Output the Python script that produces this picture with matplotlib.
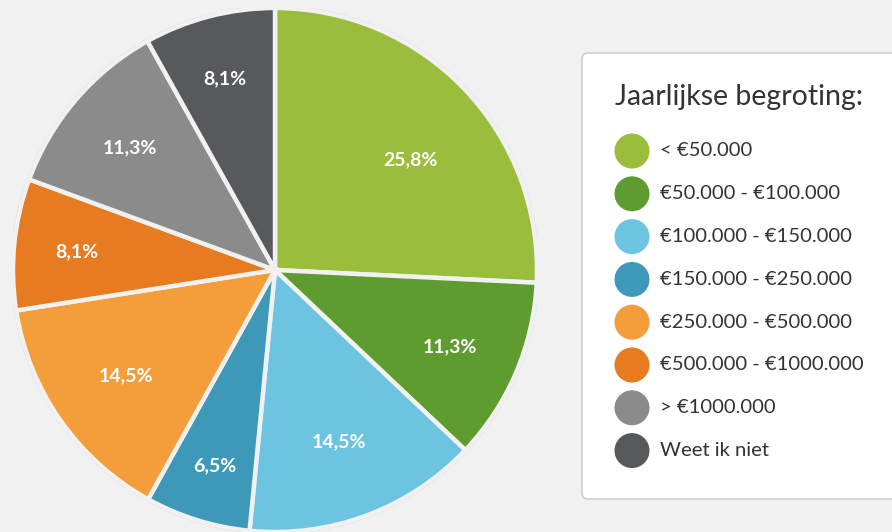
import matplotlib
matplotlib.use('Agg')
import matplotlib.pyplot as plt
import numpy as np
from matplotlib.patches import FancyBboxPatch, Circle

plt.rcParams['font.family'] = ['Lato', 'DejaVu Sans']

categories = ['< €50.000', '€50.000 - €100.000', '€100.000 - €150.000', '€150.000 - €250.000',
              '€250.000 - €500.000', '€500.000 - €1000.000', '> €1000.000', 'Weet ik niet']
values = [25.8, 11.3, 14.5, 6.5, 14.5, 8.1, 11.3, 8.1]
labels = ['25,8%', '11,3%', '14,5%', '6,5%', '14,5%', '8,1%', '11,3%', '8,1%']
colors = ['#9abe3c', '#5e9c2f', '#6cc4e0', '#3e98b8', '#f49d3b', '#e67b22', '#8b8b8b', '#58595b']
legend_title = 'Jaarlijkse begroting:'

bg = '#f1f1f1'
W, H = 892, 532
fig = plt.figure(figsize=(W / 100, H / 100), dpi=100, facecolor=bg)

# pie axes: centre (275, 270) px, radius 262 px
cx, cy, R = 275, 270, 262
ax = fig.add_axes([(cx - R) / W, (H - cy - R) / H, 2 * R / W, 2 * R / H])
ax.set_facecolor(bg)
ax.axis('off')
ax.add_patch(Circle((0, 0), 1.006, facecolor='none', edgecolor='#cfcfcf', lw=1.0, zorder=0))
wedges, _ = ax.pie(values, colors=colors, startangle=90, counterclock=False, radius=1.0,
                   wedgeprops=dict(edgecolor=bg, linewidth=3.2))
for w, lab, v in zip(wedges, labels, values):
    ang = np.deg2rad((w.theta1 + w.theta2) / 2)
    if v > 20:
        ang -= np.deg2rad(4)
        r = 0.67
    else:
        r = 0.84 - 0.01 * v
    ax.text(r * np.cos(ang), r * np.sin(ang), lab, ha='center', va='center_baseline',
            color='white', fontsize=14, fontweight='bold')
ax.set_xlim(-1, 1)
ax.set_ylim(-1, 1)
ax.set_aspect('equal')

# legend panel in pixel-like coordinates
lax = fig.add_axes([0, 0, 1, 1], facecolor='none')
lax.set_xlim(0, W)
lax.set_ylim(H, 0)
lax.axis('off')
lax.add_patch(FancyBboxPatch((582, 53), 340, 446, boxstyle='round,pad=0,rounding_size=6',
                             facecolor='white', edgecolor='#c8c8c8', lw=1.0))
lax.text(615, 97, legend_title, fontsize=20.5, color='#333333', va='center', ha='left')
for i, (c, lab) in enumerate(zip(colors, categories)):
    y = 151 + i * 42.8
    lax.add_patch(Circle((632, y), 17.5, facecolor=c, edgecolor='none'))
    lax.text(660, y, lab, fontsize=14.6, color='#333333', va='center', ha='left')

fig.savefig('out.png', dpi=100, facecolor=bg)
